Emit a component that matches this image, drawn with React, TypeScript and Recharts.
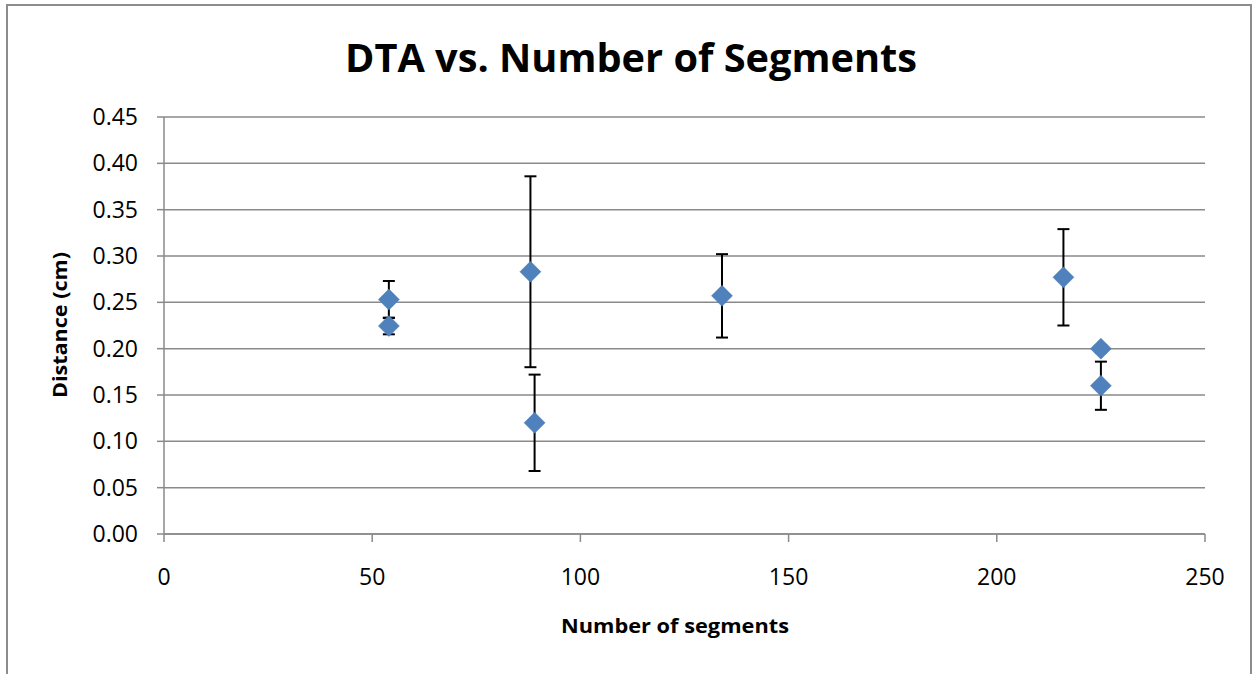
import React from 'react';
import { ScatterChart, Scatter, XAxis, YAxis, CartesianGrid, ErrorBar } from 'recharts';

const segments = [54, 54, 88, 89, 134, 216, 225, 225];
const distances = [0.253, 0.2245, 0.283, 0.12, 0.257, 0.277, 0.2, 0.16];
const errors = [0.02, 0.009, 0.103, 0.052, 0.045, 0.052, 0.004, 0.026];
const xTicks = [0, 50, 100, 150, 200, 250];
const yTicks = [0, 0.05, 0.1, 0.15, 0.2, 0.25, 0.3, 0.35, 0.4, 0.45];

const data = segments.map((x, i) => ({ x, y: distances[i], err: errors[i] }));

const FONT = '"Open Sans", "Noto Sans", sans-serif';

const Diamond = (props: any) => {
  const { cx, cy } = props;
  if (cx == null || cy == null) return null;
  const r = 10.5;
  return (
    <polygon
      points={`${cx},${cy - r} ${cx + r},${cy} ${cx},${cy + r} ${cx - r},${cy}`}
      fill="#4F81BD"
      stroke="#4a7ab3"
      strokeWidth={0.5}
    />
  );
};

const Empty = () => <g />;

export default function App() {
  return (
    <div style={{ position: 'absolute', left: 0, top: 0, width: 1259, height: 674, overflow: 'hidden', background: '#fff' }}>
      <div
        style={{
          position: 'absolute',
          left: 6,
          top: 4,
          width: 1246,
          height: 720,
          border: '2px solid #8c8c8c',
          boxSizing: 'border-box',
        }}
      />
      <div style={{ position: 'absolute', left: 0, top: 0 }}>
        <ScatterChart width={1259} height={674} margin={{ top: 117, right: 54, bottom: 80, left: 0 }}>
          <CartesianGrid vertical={false} stroke="#8a8a8a" strokeWidth={1.5} />
          <XAxis
            type="number"
            dataKey="x"
            domain={[0, 250]}
            ticks={xTicks}
            height={60}
            stroke="#8a8a8a"
            strokeWidth={1.5}
            tickSize={8}
            tickMargin={27}
            tick={{ fill: '#000', fontSize: 23, fontFamily: FONT }}
            interval={0}
          />
          <YAxis
            type="number"
            dataKey="y"
            domain={[0, 0.45]}
            ticks={yTicks}
            width={164}
            stroke="#8a8a8a"
            strokeWidth={1.5}
            tickSize={7}
            tickMargin={19}
            tickFormatter={(v: number) => v.toFixed(2)}
            tick={{ fill: '#000', fontSize: 23, fontFamily: FONT }}
            interval={0}
          />
          <Scatter data={data} isAnimationActive={false} shape={<Empty />}>
            <ErrorBar dataKey="err" direction="y" width={6} stroke="#000" strokeWidth={2} />
          </Scatter>
          <Scatter data={data} isAnimationActive={false} shape={<Diamond />} />
        </ScatterChart>
      </div>
      <svg width={1259} height={674} style={{ position: 'absolute', left: 0, top: 0, pointerEvents: 'none' }}>
        <text
          x={631}
          y={72}
          textAnchor="middle"
          fontFamily={FONT}
          fontWeight="bold"
          fontSize={39}
          textLength={572}
          lengthAdjust="spacingAndGlyphs"
          fill="#000"
        >
          DTA vs. Number of Segments
        </text>
        <text
          x={675}
          y={633}
          textAnchor="middle"
          fontFamily={FONT}
          fontWeight="bold"
          fontSize={20}
          textLength={228}
          lengthAdjust="spacingAndGlyphs"
          fill="#000"
        >
          Number of segments
        </text>
        <text
          x={0}
          y={0}
          transform="translate(67,325) rotate(-90)"
          textAnchor="middle"
          fontFamily={FONT}
          fontWeight="bold"
          fontSize={20}
          textLength={146}
          lengthAdjust="spacingAndGlyphs"
          fill="#000"
        >
          Distance (cm)
        </text>
      </svg>
    </div>
  );
}
